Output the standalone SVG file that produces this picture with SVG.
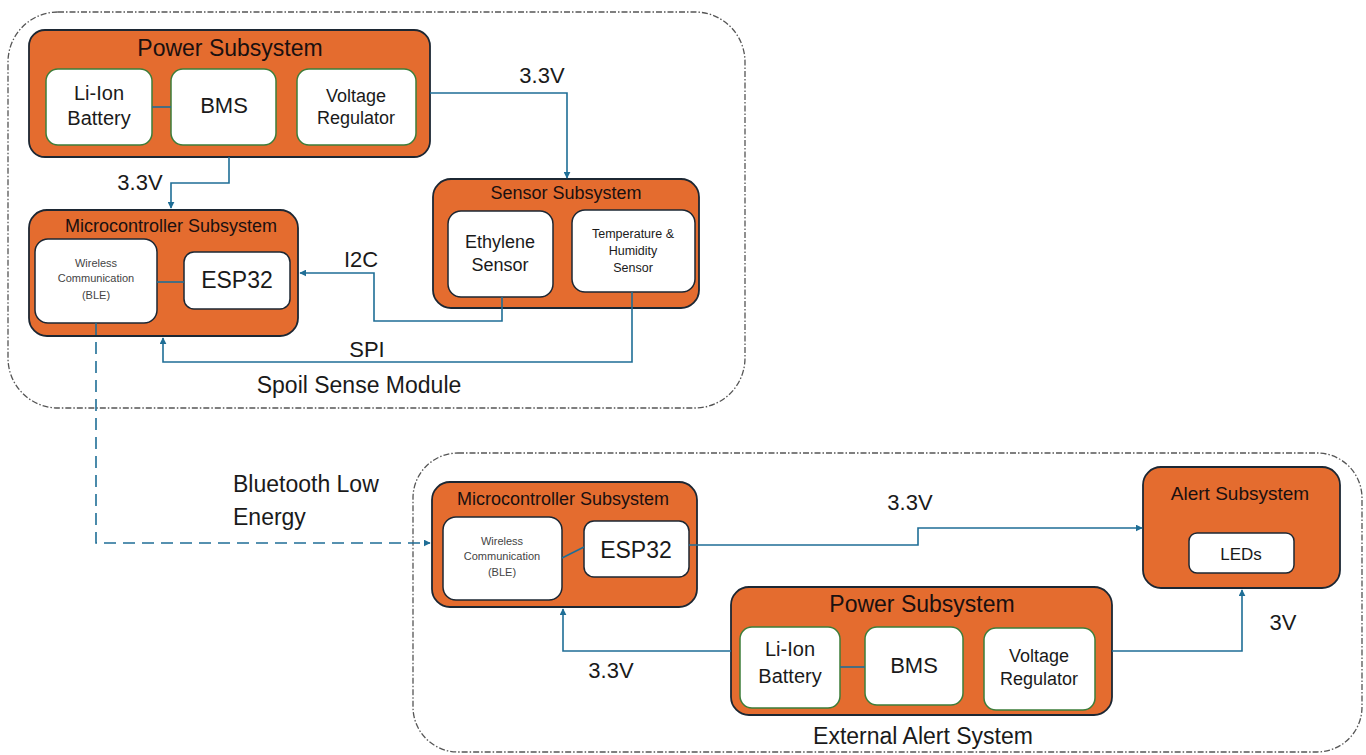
<svg xmlns="http://www.w3.org/2000/svg" width="1366" height="755" viewBox="0 0 1366 755">
<defs>
<marker id="arr" viewBox="0 0 10 10" refX="9" refY="5" markerWidth="7" markerHeight="7" markerUnits="userSpaceOnUse" orient="auto"><path d="M0,0 L10,5 L0,10 z" fill="#1f6e96"/></marker>
<style>
.cont{fill:none;stroke:#555;stroke-width:1.3;stroke-dasharray:6 2 1.5 2}
.sub{fill:#e46c2f;stroke:#1c2733;stroke-width:1.8}
.inG{fill:#fff;stroke:#3d7d3a;stroke-width:1.5}
.inD{fill:#fff;stroke:#1c2733;stroke-width:1.5}
.con{fill:none;stroke:#1f6e96;stroke-width:1.6}
.dash{fill:none;stroke:#1f6e96;stroke-width:1.6;stroke-dasharray:12 7}
text{font-family:"Liberation Sans",Arial,sans-serif;fill:#1a1a1a;text-anchor:middle}
.t{fill:#1a1010}
.sm{fill:#444}
.lbl{font-size:22px}
</style>
</defs>
<rect width="1366" height="755" fill="#fff"/>

<g id="spoil-sense-module">
<rect class="cont" x="8" y="12" width="737" height="396" rx="50"/>
<text x="359" y="393" font-size="23">Spoil Sense Module</text>
</g>
<g id="external-alert-system">
<rect class="cont" x="413" y="453" width="949" height="299" rx="45"/>
<text x="923" y="744" font-size="23">External Alert System</text>
</g>

<g id="power-subsystem-1">
<rect class="sub" x="29" y="30" width="401" height="127" rx="16"/>
<text class="t" x="230" y="56" font-size="23">Power Subsystem</text>
</g>
<g id="li-ion-battery-1">
<rect class="inG" x="46" y="69" width="106" height="76" rx="12"/>
<text x="99" y="100" font-size="20">Li-Ion</text>
<text x="99" y="125" font-size="20">Battery</text>
</g>
<g id="bms-1">
<rect class="inG" x="171" y="69" width="105" height="76" rx="12"/>
<text x="224" y="113" font-size="22">BMS</text>
</g>
<g id="voltage-regulator-1">
<rect class="inG" x="297" y="69" width="119" height="76" rx="12"/>
<text x="356" y="102" font-size="18">Voltage</text>
<text x="356" y="124" font-size="18">Regulator</text>
</g>

<g id="microcontroller-subsystem-1">
<rect class="sub" x="29" y="210" width="269" height="126" rx="18"/>
<text class="t" x="171" y="232" font-size="18">Microcontroller Subsystem</text>
</g>
<g id="wireless-communication-1">
<rect class="inD" x="35" y="239" width="122" height="84" rx="13"/>
<text class="sm" x="96" y="267" font-size="11">Wireless</text>
<text class="sm" x="96" y="282" font-size="11">Communication</text>
<text class="sm" x="96" y="299" font-size="11">(BLE)</text>
</g>
<g id="esp32-1">
<rect class="inD" x="184" y="252" width="106" height="57" rx="10"/>
<text x="237" y="288" font-size="23">ESP32</text>
</g>

<g id="sensor-subsystem">
<rect class="sub" x="433" y="179" width="266" height="129" rx="18"/>
<text class="t" x="566" y="199" font-size="18">Sensor Subsystem</text>
</g>
<g id="ethylene-sensor">
<rect class="inD" x="448" y="211" width="105" height="86" rx="13"/>
<text x="500" y="248" font-size="18">Ethylene</text>
<text x="500" y="271" font-size="18">Sensor</text>
</g>
<g id="temperature-humidity-sensor">
<rect class="inD" x="572" y="210" width="123" height="82" rx="13"/>
<text x="633" y="238" font-size="12.5">Temperature &amp;</text>
<text x="633" y="255" font-size="12.5">Humidity</text>
<text x="633" y="272" font-size="12.5">Sensor</text>
</g>

<g id="labels-top">
<text class="lbl" x="542" y="83">3.3V</text>
<text class="lbl" x="140" y="190">3.3V</text>
<text class="lbl" x="361" y="267">I2C</text>
<text class="lbl" x="367" y="357">SPI</text>
<text x="233" y="492" font-size="23" style="text-anchor:start">Bluetooth Low</text>
<text x="233" y="525" font-size="23" style="text-anchor:start">Energy</text>
</g>

<g id="microcontroller-subsystem-2">
<rect class="sub" x="432" y="482" width="265" height="125" rx="18"/>
<text class="t" x="563" y="505" font-size="18">Microcontroller Subsystem</text>
</g>
<g id="wireless-communication-2">
<rect class="inD" x="443" y="517" width="119" height="83" rx="13"/>
<text class="sm" x="502" y="545" font-size="11">Wireless</text>
<text class="sm" x="502" y="560" font-size="11">Communication</text>
<text class="sm" x="502" y="576" font-size="11">(BLE)</text>
</g>
<g id="esp32-2">
<rect class="inD" x="584" y="521" width="105" height="56" rx="10"/>
<text x="636" y="558" font-size="23">ESP32</text>
</g>

<g id="alert-subsystem">
<rect class="sub" x="1143" y="467" width="197" height="121" rx="18"/>
<text class="t" x="1240" y="500" font-size="19">Alert Subsystem</text>
</g>
<g id="leds">
<rect class="inD" x="1189" y="533" width="105" height="40" rx="8"/>
<text x="1241" y="560" font-size="17">LEDs</text>
</g>

<g id="power-subsystem-2">
<rect class="sub" x="731" y="587" width="381" height="128" rx="18"/>
<text class="t" x="922" y="612" font-size="23">Power Subsystem</text>
</g>
<g id="li-ion-battery-2">
<rect class="inG" x="740" y="627" width="100" height="81" rx="12"/>
<text x="790" y="656" font-size="20">Li-Ion</text>
<text x="790" y="683" font-size="20">Battery</text>
</g>
<g id="bms-2">
<rect class="inG" x="865" y="627" width="98" height="78" rx="12"/>
<text x="914" y="673" font-size="22">BMS</text>
</g>
<g id="voltage-regulator-2">
<rect class="inG" x="984" y="628" width="111" height="82" rx="12"/>
<text x="1039" y="662" font-size="18">Voltage</text>
<text x="1039" y="685" font-size="18">Regulator</text>
</g>

<g id="labels-bottom">
<text class="lbl" x="910" y="510">3.3V</text>
<text class="lbl" x="611" y="678">3.3V</text>
<text class="lbl" x="1283" y="630">3V</text>
</g>

<g id="connectors">
<path class="con" d="M152,107 H171"/>
<path class="con" d="M430,93 H567 V178" marker-end="url(#arr)"/>
<path class="con" d="M229,157 V183 H171 V208" marker-end="url(#arr)"/>
<path class="con" d="M157,282 H184"/>
<path class="con" d="M502,297 V321 H374 V273 H300" marker-end="url(#arr)"/>
<path class="con" d="M632,292 V362 H163 V338" marker-end="url(#arr)"/>
<path class="dash" d="M96,323 V543 H430" marker-end="url(#arr)"/>
<path class="con" d="M562,558 L584,547"/>
<path class="con" d="M689,545 H918 V528 H1142" marker-end="url(#arr)"/>
<path class="con" d="M731,651 H563 V609" marker-end="url(#arr)"/>
<path class="con" d="M840,667 H865"/>
<path class="con" d="M1112,651 H1242 V590" marker-end="url(#arr)"/>
</g>
</svg>
